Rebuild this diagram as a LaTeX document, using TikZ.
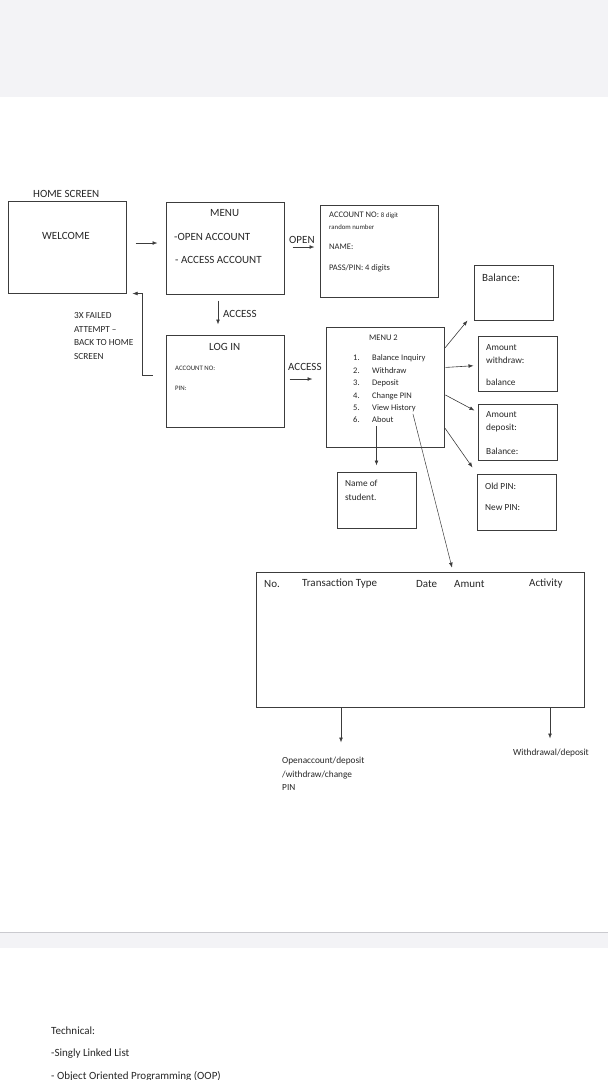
\documentclass[tikz,border=0pt]{standalone}
\usepackage{fontspec}
\setmainfont{Carlito}
\usetikzlibrary{arrows.meta, positioning}
\definecolor{ink}{HTML}{262626}
\definecolor{edge}{HTML}{3C3C3C}
\definecolor{band}{HTML}{F3F3F6}
\definecolor{bandline}{HTML}{CACACF}
\def\bigsize{\fontsize{11}{12}\selectfont}
\def\midsize{\fontsize{9.3}{13.5}\selectfont}
\def\itemsize{\fontsize{8.5}{10}\selectfont}
\def\smallsize{\fontsize{6.8}{8}\selectfont}
\def\boxW{79pt}
\def\boxH{55pt}

\begin{document}
\begin{tikzpicture}[
    x=1pt, y=-1pt,
    >={Latex[length=5pt,width=3.8pt]},
    screen/.style={draw=edge, line width=1pt, inner sep=0pt, minimum width=118pt, minimum height=92pt},
    panel/.style={draw=edge, line width=1pt, inner sep=0pt, minimum width=\boxW, minimum height=\boxH},
    txt/.style={text=ink, inner sep=0pt, anchor=west, font=\bigsize},
    arr/.style={->, draw=edge, line width=0.6pt}
]
\useasboundingbox (0,0) rectangle (608,1080);

% page gaps of the scan
\fill[band] (0,0) rectangle (608,97);
\fill[band] (0,932) rectangle (608,948);
\draw[bandline, line width=1pt] (0,932) -- (608,932);

% screens
\node[screen] (home) at (67,247) {};
\node[screen] (menu) at (225,248) {};
\node[screen] (acc) at (379,251) {};
\node[screen] (login) at (225,381) {};
\node[screen, minimum height=120pt] (menu2) at (385,387) {};
\node[panel] (bal) at (513.5,292.5) {};
\node[panel] (wd) at (517.5,363.5) {};
\node[panel, minimum height=56pt] (dep) at (517.5,432) {};
\node[panel, minimum height=56pt] (pin) at (516.5,502) {};
\node[panel, minimum height=56pt] (stud) at (376.5,500) {};
\node[draw=edge, line width=1pt, inner sep=0pt, minimum width=328pt, minimum height=135pt] (hist) at (420,639.5) {};

% texts
\node[txt] (homeT) at (33,194) {HOME SCREEN};
\node[txt] (welcome) at (42,236) {WELCOME};
\node[txt] (menuT) at (210,213) {MENU};
\node[txt] (openAcc) at (174,237) {-OPEN ACCOUNT};
\node[txt] (accessAcc) at (175,260) {- ACCESS ACCOUNT};
\node[txt] (openL) at (289,240) {OPEN};
\node[txt, font=\itemsize] (accNo) at (329,215) {ACCOUNT NO: {\smallsize 8 digit}};
\node[txt, font=\smallsize] (rand) at (329,227) {random number};
\node[txt, font=\itemsize] (nameF) at (329,247) {NAME:};
\node[txt, font=\itemsize] (passF) at (329,268) {PASS/PIN: 4 digits};
\node[txt] (balT) at (482,278) {Balance:};
\node[txt] (accessDown) at (223,314) {ACCESS};
\node[txt, font=\midsize, align=left] (failed) at (74,336) {3X FAILED\\ATTEMPT --\\BACK TO HOME\\SCREEN};
\node[txt] (loginT) at (209,347) {LOG IN};
\node[txt, font=\smallsize] (loginNo) at (175,368) {ACCOUNT NO:};
\node[txt, font=\smallsize] (loginPin) at (175,388) {PIN:};
\node[txt] (accessRight) at (288,367) {ACCESS};
\node[txt, font=\itemsize] (menu2T) at (369,338) {MENU 2};
\node[txt, font=\itemsize] (m1) at (353,358) {\makebox[19pt][l]{1.}Balance Inquiry};
\node[txt, font=\itemsize] (m2) at (353,371) {\makebox[19pt][l]{2.}Withdraw};
\node[txt, font=\itemsize] (m3) at (353,383) {\makebox[19pt][l]{3.}Deposit};
\node[txt, font=\itemsize] (m4) at (353,396) {\makebox[19pt][l]{4.}Change PIN};
\node[txt, font=\itemsize] (m5) at (353,408) {\makebox[19pt][l]{5.}View History};
\node[txt, font=\itemsize] (m6) at (353,420) {\makebox[19pt][l]{6.}About};
\node[txt, font=\midsize, align=left] (wdT) at (486,354) {Amount\\withdraw:};
\node[txt, font=\midsize] (wdBal) at (486,382) {balance};
\node[txt, font=\midsize, align=left] (depT) at (486,422) {Amount\\deposit:};
\node[txt, font=\midsize] (depBal) at (486,451) {Balance:};
\node[txt, font=\midsize] (oldPin) at (485,486) {Old PIN:};
\node[txt, font=\midsize] (newPin) at (485,508) {New PIN:};
\node[txt, font=\midsize, align=left] (studT) at (345,490.5) {Name of\\student.};
\node[txt] (colNo) at (264,584) {No.};
\node[txt] (colType) at (302,584) {Transaction Type};
\node[txt] (colDate) at (416,584) {Date};
\node[txt] (colAmt) at (454,584) {Amunt};
\node[txt] (colAct) at (529,584) {Activity};
\node[txt, font=\midsize, align=left] (leftNote) at (282,774) {Openaccount/deposit\\/withdraw/change\\PIN};
\node[txt, font=\midsize] (rightNote) at (513,753) {Withdrawal/deposit};
\node[txt] (tech) at (51,1031) {Technical:};
\node[txt] (tech1) at (51,1054) {-Singly Linked List};
\node[txt] (tech2) at (51,1076) {- Object Oriented Programming (OOP)};

% connectors
\draw[arr, shorten <=9pt, shorten >=8pt] ([yshift=4pt]home.east) -- ([yshift=5pt]menu.west);
\draw[arr, shorten <=8pt, shorten >=5pt] ([yshift=1pt]menu.east) -- ([yshift=4pt]acc.west);
\draw[arr, shorten <=6pt, shorten >=10pt] ([xshift=-7pt]menu.south) -- ([xshift=-7pt]login.north);
\draw[arr, shorten <=5pt, shorten >=13pt] ([yshift=2pt]login.east) -- ([yshift=8pt]menu2.west);
\draw[arr, line width=0.5pt] ([xshift=-13pt, yshift=6pt]login.west) -- ++(-10,0) |- ([xshift=6pt]home.south east);
\draw[arr, shorten <=1pt] ([yshift=-22pt]menu2.north east) -- ([xshift=-6pt]bal.south west);
\draw[arr, shorten <=1pt, shorten >=4pt] ([yshift=-41pt]menu2.north east) -- ([yshift=-2pt]wd.west);
\draw[arr, shorten <=1pt] ([yshift=-68pt]menu2.north east) -- ([xshift=-3pt, yshift=-7pt]dep.north west);
\draw[arr, shorten <=1pt] ([yshift=-101pt]menu2.north east) -- ([xshift=-4pt, yshift=6pt]pin.north west);
\draw[arr, shorten <=3pt, shorten >=6pt] (m6.south -| stud.north) -- (stud.north);
\draw[arr, line width=0.5pt, shorten >=4pt] ([xshift=-3pt, yshift=-2pt]m5.south east) -- ([xshift=33pt]hist.north);
\draw[arr, shorten >=10pt] ([xshift=-79pt]hist.south) -- ([xshift=-79pt, yshift=-45pt]hist.south);
\draw[arr, shorten >=10pt] ([xshift=130pt]hist.south) -- ([xshift=130pt, yshift=-41pt]hist.south);
\end{tikzpicture}
\end{document}
